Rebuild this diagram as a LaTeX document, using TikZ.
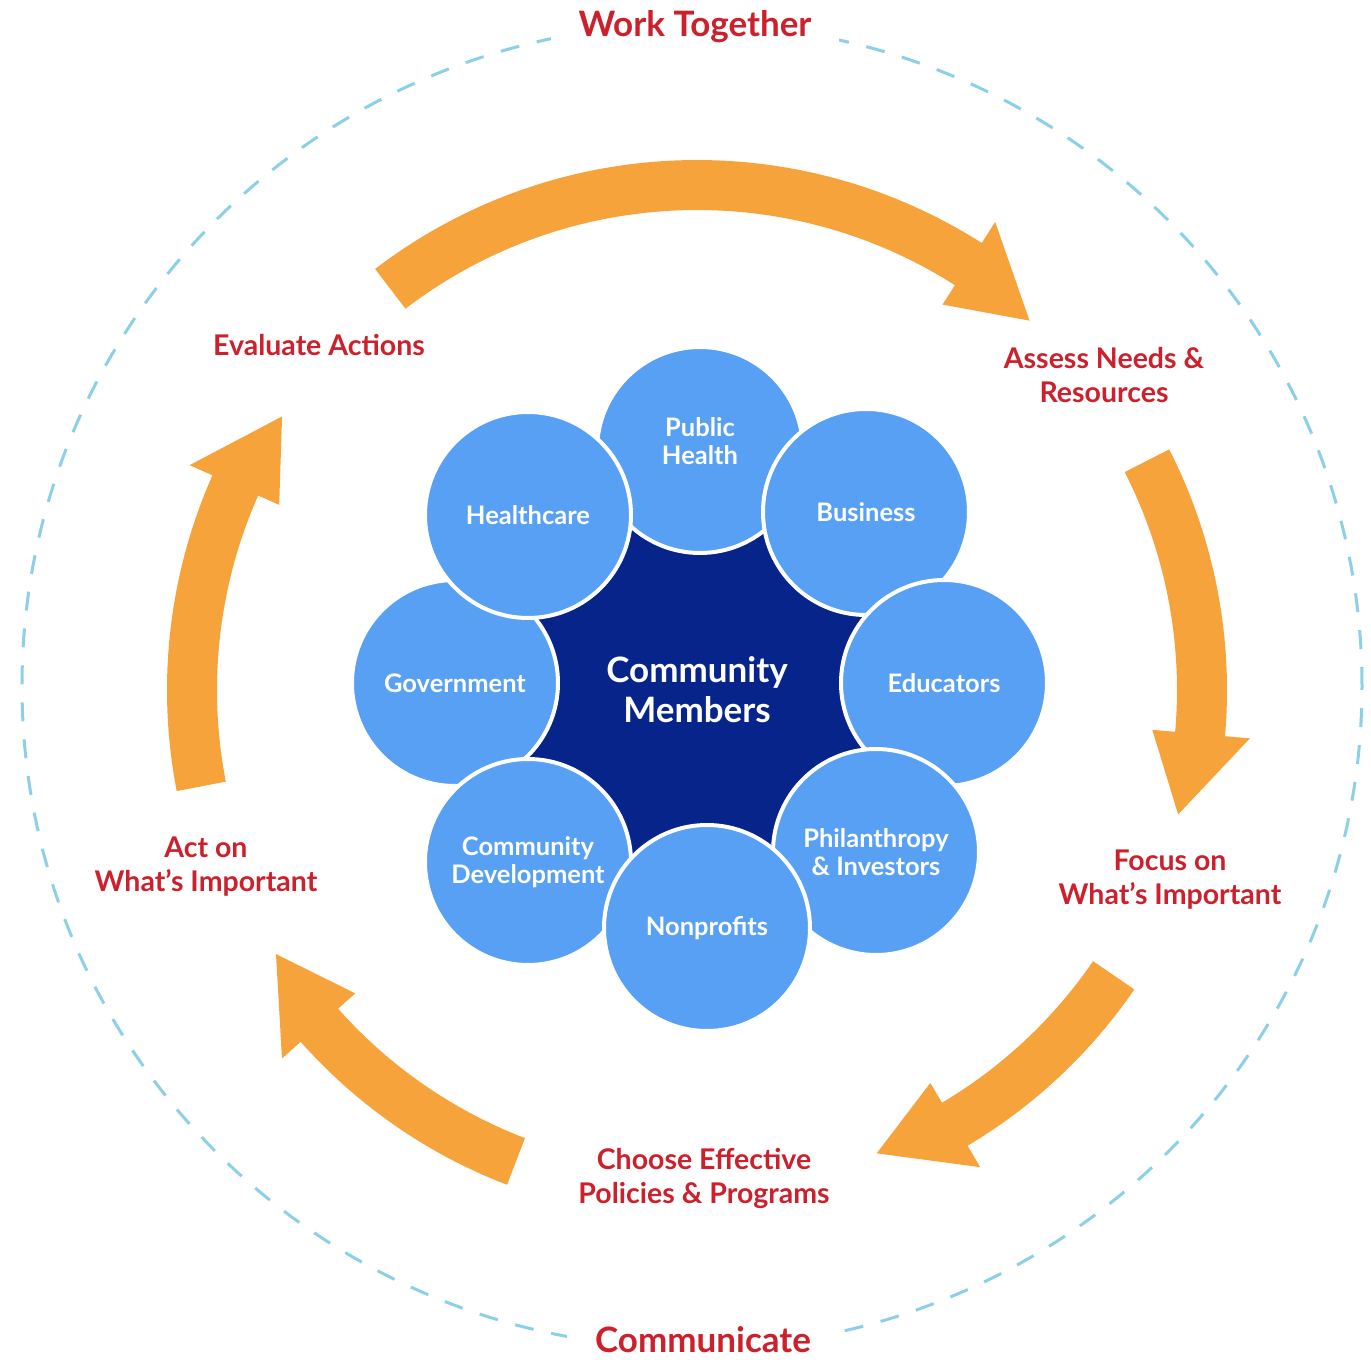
\documentclass[tikz,border=0pt]{standalone}
\usepackage{fontspec}
\setmainfont{Lato}
\usetikzlibrary{positioning}

\definecolor{petalblue}{RGB}{88,160,244}
\definecolor{hubnavy}{RGB}{6,36,138}
\definecolor{cycleorange}{RGB}{247,163,60}
\definecolor{labelred}{RGB}{204,32,44}
\definecolor{ringblue}{RGB}{140,208,232}

\tikzset{
  petal/.style={circle, draw=white, line width=4pt, fill=petalblue, minimum size=206pt,
    inner sep=0pt, text=white, align=center, font=\fontsize{25.5}{28}\selectfont\bfseries},
  hub/.style={circle, fill=hubnavy, minimum size=400pt, text=white, align=center,
    font=\fontsize{35}{40}\selectfont\bfseries},
  steplabel/.style={text=labelred, align=center, font=\fontsize{28.5}{34}\selectfont\bfseries},
  ringlabel/.style={text=labelred, fill=white, inner xsep=28pt, font=\fontsize{35}{40}\selectfont\bfseries}
}
% thick curved arrow on the cycle: #1 tail angle, #2 tip angle
\newcommand\cyclearrow[2]{%
  \pgfmathsetmacro\headbase{#2+9.5}
  \fill[cycleorange] (#1:530pt) arc[start angle=#1, end angle=\headbase, radius=530pt]
    -- (\headbase:555pt) -- (#2:497pt) -- (\headbase:457pt)
    -- (\headbase:480pt) arc[start angle=\headbase, end angle=#1, radius=480pt] -- cycle;}

\begin{document}
\begin{tikzpicture}[x=1pt, y=1pt]
  \useasboundingbox (-697,-672) rectangle (674,690);

  % the cycle
  \cyclearrow{127.4}{48}
  \cyclearrow{27}{-14.5}
  \cyclearrow{-34.4}{-68.8}
  \cyclearrow{-111}{-147.9}
  \cyclearrow{191}{146.6}
  \draw[ringblue, line width=3pt, dash pattern=on 19pt off 18pt] (-5,4) ellipse [x radius=670, y radius=662];

  % centre and partners
  \node[hub] (members) at (0,0) {Community\\Members};
  \node[petal] (pubhealth) at (3,240) {Public\\Health\\[-10pt]};
  \node[petal] (business) at (169,178) {Business};
  \node[petal] (educators) at (247,7) {Educators};
  \node[petal] (philanthropy) at (179,-162) {Philanthropy\\\& Investors};
  \node[petal] (government) at (-242,7) {Government};
  \node[petal] (commdev) at (-169,-172) {Community\\Development};
  \node[petal] (nonprofits) at (10,-238) {Nonprofits};
  \node[petal] (healthcare) at (-169,175) {Healthcare};

  % steps
  \node[ringlabel] (together) at (-2,663) {Work Together};
  \node[ringlabel] (communicate) at (6,-650) {Communicate};
  \node[steplabel] (evaluate) at (-378,345) {Evaluate Actions};
  \node[steplabel] (assess) at (407,315) {Assess Needs \&\\Resources};
  \node[steplabel] (focus) at (473,-190) {Focus on\\What’s Important};
  \node[steplabel] (choose) at (7,-488) {Choose Effective\\Policies \& Programs};
  \node[steplabel] (act) at (-491,-177) {Act on\\What’s Important};
\end{tikzpicture}
\end{document}
